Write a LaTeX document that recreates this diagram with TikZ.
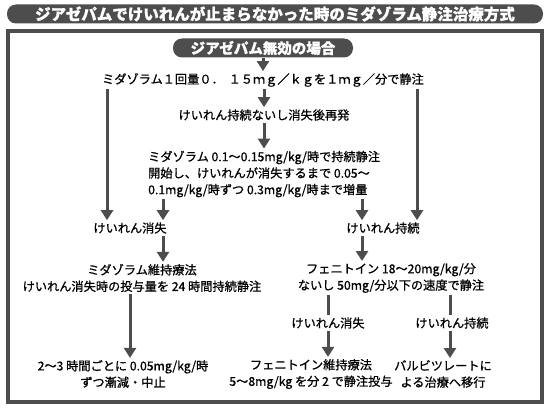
\documentclass[tikz,border=0pt]{standalone}
\usepackage{fontspec}
\setmainfont{Noto Sans CJK JP}[FakeBold=0.8]
\usepackage{xcolor}
\usepackage{tikz}
\usetikzlibrary{arrows.meta,positioning,calc}

\definecolor{barGray}{HTML}{4D4D4D}

\begin{document}
\begin{tikzpicture}[
  x=1pt, y=-1pt,
  >={Triangle[width=12pt,length=10pt]},
  every node/.style={font=\fontsize{12.2}{16.5}\selectfont, inner sep=2pt},
  txt/.style={align=center},
  pill/.style={fill=barGray, text=white, rounded corners=9pt, font=\fontsize{14.5}{16}\selectfont\bfseries, inner sep=0pt},
  arr/.style={->, draw=barGray, line width=3pt},
  rule/.style={draw=barGray, line width=3pt}
]
\useasboundingbox (0,0) rectangle (550,409);

% frame and headings
\draw[barGray, line width=3.5pt] (8,31) rectangle (542,402);
\node[pill, minimum width=536pt, minimum height=19pt, font=\fontsize{15.5}{16}\selectfont\bfseries] (title) at (275,14) {ジアゼパムでけいれんが止まらなかった時のミダゾラム静注治療方式};
\node[pill, minimum width=180pt, minimum height=19pt] (start) at (263,48) {ジアゼパム無効の場合};

% columns
\coordinate (colL) at (107,0);
\coordinate (colLi) at (163,0);
\coordinate (colRi) at (362,0);
\coordinate (colR) at (417,0);
\coordinate (colA) at (130,0);
\coordinate (colB) at (328,0);
\coordinate (colC) at (450,0);

\node[txt] (bolus) at (263,80) {ミダゾラム１回量０．\hspace{0.4em}１５ｍｇ／ｋｇを１ｍｇ／分で静注};
\node[txt] (relapse) at (264,115) {けいれん持続ないし消失後再発};
\node[anchor=west, align=left] (dose) at (146,174) {ミダゾラム 0.1～0.15mg/kg/時で持続静注\\開始し、けいれんが消失するまで 0.05～\\0.1mg/kg/時ずつ 0.3mg/kg/時まで増量};

\node[txt] (lost) at (130,228) {けいれん消失};
\node[txt] (persist) at (383,228) {けいれん持続};
\node[txt] (mmaint) at (142,278) {ミダゾラム維持療法\\けいれん消失時の投与量を 24 時間持続静注};
\node[txt] (phen) at (391,278) {フェニトイン 18～20mg/kg/分\\ないし 50mg/分以下の速度で静注};

\node[txt] (plost) at (328,323) {けいれん消失};
\node[txt] (ppersist) at (452,323) {けいれん持続};
\node[txt] (taper) at (123,374) {2～3 時間ごとに 0.05mg/kg/時\\ずつ漸減・中止};
\node[txt] (pmaint) at (311,374) {フェニトイン維持療法\\5～8mg/kg を分 2 で静注投与};
\node[txt] (barb) at (443,374) {バルビツレートに\\よる治療へ移行};

\draw[arr] (start.south -| bolus) -- (bolus.north);
\draw[arr] (bolus.south -| relapse) -- (relapse.north);
\draw[arr] (relapse.south) -- (dose.north -| relapse);
\draw[arr] (bolus.south -| colL) -- (lost.north -| colL);
\draw[arr] (dose.south -| colLi) -- (lost.north -| colLi);
\draw[arr] (dose.south -| colRi) -- (persist.north -| colRi);
\draw[arr] (bolus.south -| colR) -- (persist.north -| colR);
\draw[arr] (lost.south -| colLi) -- (mmaint.north -| colLi);
\draw[arr] (persist.south -| colRi) -- (phen.north -| colRi);
\draw[arr] (mmaint.south -| colA) -- (taper.north -| colA);
\draw[rule] (phen.south -| colB) -- (plost.north -| colB);
\draw[rule] (phen.south -| colC) -- (ppersist.north -| colC);
\draw[arr] (plost.south -| colB) -- (pmaint.north -| colB);
\draw[arr] (ppersist.south -| colC) -- (barb.north -| colC);
\end{tikzpicture}
\end{document}
